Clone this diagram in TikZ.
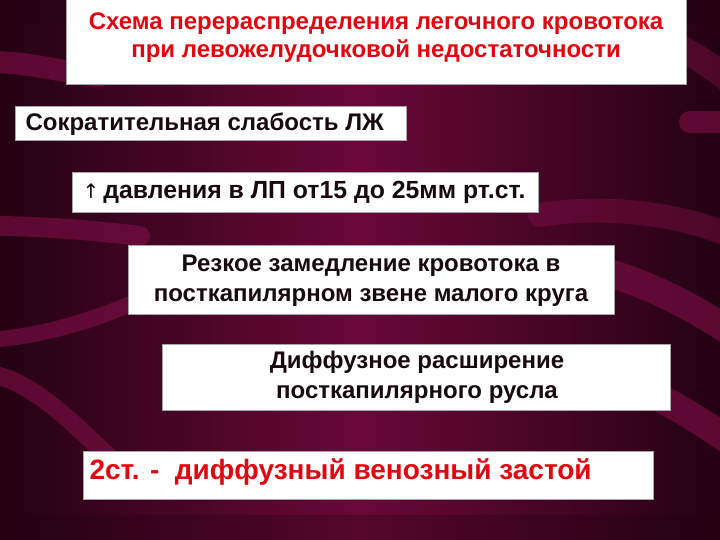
\documentclass[tikz,border=0pt]{standalone}
\usepackage{fontspec}
\setmainfont{Liberation Sans}
\newfontfamily\arrowfont{DejaVu Sans}
\definecolor{bgdark}{RGB}{36,2,18}
\definecolor{bgmid}{RGB}{106,8,56}
\definecolor{stripe}{RGB}{128,14,72}
\definecolor{tred}{RGB}{228,6,14}
\definecolor{tblack}{RGB}{24,10,16}
\tikzset{
  box/.style={fill=white, draw=gray!70, line width=0.6bp, inner sep=0pt},
  band/.style={stripe, line cap=round, opacity=0.6},
  ttl/.style={font=\bfseries\fontsize{24bp}{28bp}\selectfont, text=tred, align=center},
  blk/.style={font=\bfseries\fontsize{24bp}{30bp}\selectfont, text=tblack},
}
\begin{document}
\begin{tikzpicture}[x=1bp,y=-1bp]
\useasboundingbox (0,0) rectangle (720,540);
% background
\fill[left color=bgdark, right color=bgdark, middle color=bgmid] (0,0) rectangle (720,540);
\fill[bgdark, opacity=0.3] (0,0) rectangle (720,25);
\fill[bgdark, opacity=0.3] (0,515) rectangle (720,540);
% stripes
\draw[band, line width=22bp] (-10,62) .. controls (30,62) and (60,72) .. (100,76);
\draw[band, line width=20bp] (-10,226) .. controls (40,226) and (90,230) .. (140,236);
\draw[band, line width=16bp] (-10,340) .. controls (40,336) and (90,322) .. (140,300);
\draw[band, line width=18bp] (-10,374) .. controls (30,380) and (70,420) .. (110,458);
\draw[band, line width=26bp, opacity=0.45] (610,20) .. controls (660,35) and (700,55) .. (735,85);
\draw[band, line width=22bp] (690,122) -- (735,122);
\draw[band, line width=24bp, opacity=0.45] (540,215) .. controls (600,205) and (680,212) .. (735,238);
\draw[band, line width=28bp] (600,270) .. controls (650,285) and (690,305) .. (735,335);
\draw[band, line width=28bp] (610,375) .. controls (660,395) and (700,420) .. (735,445);
% boxes
\node[box, minimum width=620bp, minimum height=86bp] (b1) at (376,41) {};
\node[ttl] (t1) at (376,38) {Схема перераспределения легочного кровотока\\при левожелудочковой недостаточности};
\node[box, minimum width=391bp, minimum height=34bp] (b2) at (210.5,123) {};
\node[blk, anchor=west] (t2) at (22,124) {Сократительная слабость ЛЖ};
\node[box, minimum width=466bp, minimum height=40bp] (b3) at (305,192) {};
\node[blk, font=\bfseries\fontsize{24.8bp}{30bp}\selectfont, anchor=west] (t3) at (79,192) {{\arrowfont\mdseries\fontsize{20bp}{24bp}\selectfont ↑}\,давления в ЛП от15 до 25мм рт.ст.};
\node[box, minimum width=486bp, minimum height=69bp] (b4) at (371,279.5) {};
\node[blk, align=center] (t4) at (371,281) {Резкое замедление кровотока в\\посткапилярном звене малого круга};
\node[box, minimum width=508bp, minimum height=66bp] (b5) at (416,377) {};
\node[blk, align=center] (t5) at (417,377) {Диффузное расширение\\посткапилярного русла};
\node[box, minimum width=570bp, minimum height=48bp] (b6) at (368,475) {};
\node[font=\bfseries\fontsize{28bp}{32bp}\selectfont, text=tred, anchor=west] (t6) at (86,472) {2ст. -\ \ диффузный венозный застой};
\end{tikzpicture}
\end{document}
